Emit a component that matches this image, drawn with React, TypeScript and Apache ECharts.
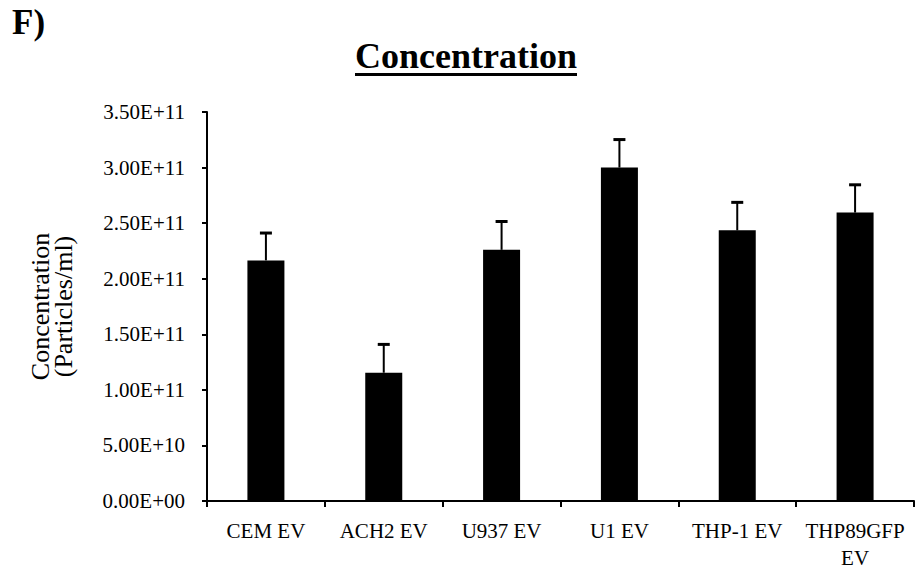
import React, { useEffect, useRef } from "react";
import * as echarts from "echarts";

const categories = ["CEM EV", "ACH2 EV", "U937 EV", "U1 EV", "THP-1 EV", "THP89GFP\nEV"];
const means = [2.165e11, 1.154e11, 2.26e11, 3.0e11, 2.435e11, 2.595e11];
const errors = [2.46e10, 2.55e10, 2.55e10, 2.52e10, 2.52e10, 2.5e10];

const yMin = 0;
const yMax = 3.5e11;
const yStep = 5e10;

const FONT = "'Liberation Serif', 'Times New Roman', serif";

function sci(v: number): string {
  if (v === 0) return "0.00E+00";
  const exp = Math.floor(Math.log10(Math.abs(v)));
  const mant = v / Math.pow(10, exp);
  const sign = exp >= 0 ? "+" : "-";
  const e = String(Math.abs(exp)).padStart(2, "0");
  return `${mant.toFixed(2)}E${sign}${e}`;
}

export default function App() {
  const ref = useRef<HTMLDivElement>(null);
  useEffect(() => {
    if (!ref.current) return;
    const chart = echarts.init(ref.current, undefined, { renderer: "svg" });
    const errData = means.map((m, i) => [i, m, errors[i]]);
    chart.setOption({
      animation: false,
      backgroundColor: "#fff",
      title: {
        text: "Concentration",
        left: 466,
        textAlign: "center",
        top: 38,
        padding: 0,
        textStyle: { fontFamily: FONT, fontWeight: "bold", fontSize: 36, color: "#000" },
      },
      graphic: [
        {
          type: "text",
          left: 12,
          top: 5,
          style: { text: "F)", fontFamily: FONT, fontWeight: "bold", fontSize: 35, fill: "#000" },
        },
        {
          type: "rect",
          shape: { x: 355, y: 73, width: 222, height: 3 },
          style: { fill: "#000" },
        },
      ],
      grid: { left: 207, right: 2, top: 112, bottom: 66, containLabel: false },
      xAxis: {
        type: "category",
        data: categories,
        boundaryGap: true,
        axisLine: { lineStyle: { color: "#000", width: 2 } },
        axisTick: { show: true, length: 6, lineStyle: { color: "#000", width: 2 } },
        axisLabel: {
          color: "#000",
          fontFamily: FONT,
          fontSize: 21,
          margin: 16,
          lineHeight: 27,
          interval: 0,
        },
        splitLine: { show: false },
      },
      yAxis: {
        type: "value",
        min: yMin,
        max: yMax,
        interval: yStep,
        name: "Concentration\n(Particles/ml)",
        nameLocation: "middle",
        nameRotate: 90,
        nameGap: 132,
        nameTextStyle: { color: "#000", fontFamily: FONT, fontSize: 26, lineHeight: 23 },
        axisLine: { show: true, lineStyle: { color: "#000", width: 2 } },
        axisTick: { show: true, length: 5, lineStyle: { color: "#000", width: 2 } },
        axisLabel: {
          color: "#000",
          fontFamily: FONT,
          fontSize: 21,
          margin: 22,
          formatter: (v: number) => sci(v),
        },
        splitLine: { show: false },
      },
      series: [
        {
          type: "bar",
          data: means,
          barWidth: 37,
          itemStyle: { color: "#000" },
          z: 2,
        },
        {
          type: "custom",
          data: errData,
          encode: { x: 0, y: 1 },
          z: 3,
          renderItem: (params: any, api: any) => {
            const i = api.value(0);
            const v = api.value(1);
            const e = api.value(2);
            const base = api.coord([i, v]);
            const top = api.coord([i, v + e]);
            const half = 6;
            return {
              type: "group",
              children: [
                {
                  type: "line",
                  shape: { x1: base[0], y1: base[1], x2: top[0], y2: top[1] },
                  style: { stroke: "#000", lineWidth: 2 },
                },
                {
                  type: "line",
                  shape: { x1: top[0] - half, y1: top[1], x2: top[0] + half, y2: top[1] },
                  style: { stroke: "#000", lineWidth: 3 },
                },
              ],
            };
          },
        },
      ],
    });
    return () => chart.dispose();
  }, []);
  return (
    <div
      ref={ref}
      style={{ position: "fixed", left: 0, top: 0, width: 916, height: 571, background: "#fff" }}
    />
  );
}
